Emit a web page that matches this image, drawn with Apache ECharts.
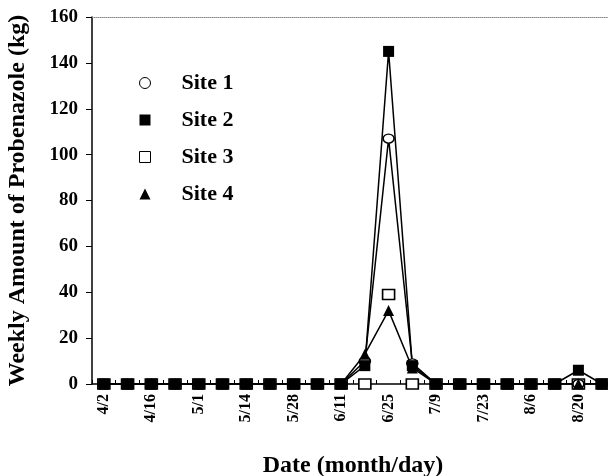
<!DOCTYPE html>
<html>
<head>
<meta charset="utf-8">
<script src="https://cdn.jsdelivr.net/npm/echarts@6/dist/echarts.min.js"></script>
<style>
  html, body { margin: 0; padding: 0; background: #fff; }
  #chart { width: 608px; height: 476px; }
</style>
</head>
<body>
<div id="chart"></div>
<script>
// weekly sampling dates
var dates = ['4/2', '4/9', '4/16', '4/23', '5/1', '5/7', '5/14', '5/21', '5/28', '6/4', '6/11',
  '6/18', '6/25', '7/2', '7/9', '7/16', '7/23', '7/30', '8/6', '8/13', '8/20', '8/27'];

var site1 = [0, 0, 0, 0, 0, 0, 0, 0, 0, 0, 0, 10, 107, 9, 0, 0, 0, 0, 0, 0, 0, 0];
var site2 = [0, 0, 0, 0, 0, 0, 0, 0, 0, 0, 0, 8, 145, 8, 0, 0, 0, 0, 0, 0, 6, 0];
var site3 = [0, 0, 0, 0, 0, 0, 0, 0, 0, 0, 0, 0, 39, 0, 0, 0, 0, 0, 0, 0, 0, 0];
var site4 = [0, 0, 0, 0, 0, 0, 0, 0, 0, 0, 0, 13, 32, 7, 0, 0, 0, 0, 0, 0, 0, 0];

var yTicks = [0, 20, 40, 60, 80, 100, 120, 140, 160];

var serif = '"Liberation Serif", "DejaVu Serif", serif';
var chart = echarts.init(document.getElementById('chart'));

var option = {
  backgroundColor: '#ffffff',
  animation: false,
  grid: { left: 92, right: -6, top: 17, bottom: 92, outerBoundsMode: 'none', containLabel: false },
  legend: {
    orient: 'vertical',
    left: 134,
    top: 67,
    itemGap: 15,
    itemWidth: 11,
    itemHeight: 11,
    textStyle: { fontFamily: serif, fontWeight: 'bold', fontSize: 22, color: '#000', padding: [0, 0, 0, 26] },
    data: [
      { name: 'Site 1', icon: 'circle', itemStyle: { color: '#fff', borderColor: '#000', borderWidth: 1 } },
      { name: 'Site 2', icon: 'rect', itemStyle: { color: '#000' } },
      { name: 'Site 3', icon: 'rect', itemStyle: { color: '#fff', borderColor: '#000', borderWidth: 1 } },
      { name: 'Site 4', icon: 'triangle', itemStyle: { color: '#000' } }
    ]
  },
  xAxis: [{
    type: 'category',
    data: dates,
    boundaryGap: true,
    name: 'Date (month/day)',
    nameLocation: 'middle',
    nameGap: 70,
    nameTextStyle: { fontFamily: serif, fontWeight: 'bold', fontSize: 24, color: '#000' },
    axisLine: { lineStyle: { color: '#000', width: 1.5 } },
    axisTick: { show: true, inside: true, length: 4, interval: 0, lineStyle: { color: '#000' } },
    axisLabel: {
      interval: 1, rotate: 90, margin: 10,
      fontFamily: serif, fontWeight: 'bold', fontSize: 16, color: '#000'
    },
    splitLine: { show: false }
  }, {
    type: 'category',
    data: dates,
    position: 'top',
    axisLine: { lineStyle: { color: '#888', width: 1, type: 'dotted' } },
    axisTick: { show: false },
    axisLabel: { show: false },
    splitLine: { show: false }
  }],
  yAxis: {
    type: 'value',
    min: yTicks[0],
    max: yTicks[yTicks.length - 1],
    interval: 20,
    name: 'Weekly Amount of Probenazole (kg)',
    nameLocation: 'middle',
    nameGap: 62,
    nameTextStyle: { fontFamily: serif, fontWeight: 'bold', fontSize: 24, color: '#000' },
    axisLine: { show: true, lineStyle: { color: '#000', width: 1.5 } },
    axisTick: { show: true, length: 6, lineStyle: { color: '#000' } },
    axisLabel: { margin: 14, fontFamily: serif, fontWeight: 'bold', fontSize: 19, color: '#000' },
    splitLine: { show: false }
  },
  series: [
    {
      name: 'Site 3', type: 'line', data: site3,
      symbol: 'rect', symbolSize: [12, 10],
      itemStyle: { color: '#fff', borderColor: '#000', borderWidth: 1.5 },
      lineStyle: { width: 0, opacity: 0 }
    },
    {
      name: 'Site 1', type: 'line', data: site1,
      symbol: 'circle', symbolSize: [11, 9],
      itemStyle: { color: '#fff', borderColor: '#000', borderWidth: 1.5 },
      lineStyle: { color: '#000', width: 1.5 }
    },
    {
      name: 'Site 4', type: 'line', data: site4,
      symbol: 'triangle', symbolSize: 11,
      itemStyle: { color: '#000' },
      lineStyle: { color: '#000', width: 1.5 }
    },
    {
      name: 'Site 2', type: 'line', data: site2,
      symbol: 'rect', symbolSize: 11,
      itemStyle: { color: '#000' },
      lineStyle: { color: '#000', width: 1.5 }
    }
  ]
};

chart.setOption(option);
</script>
</body>
</html>
